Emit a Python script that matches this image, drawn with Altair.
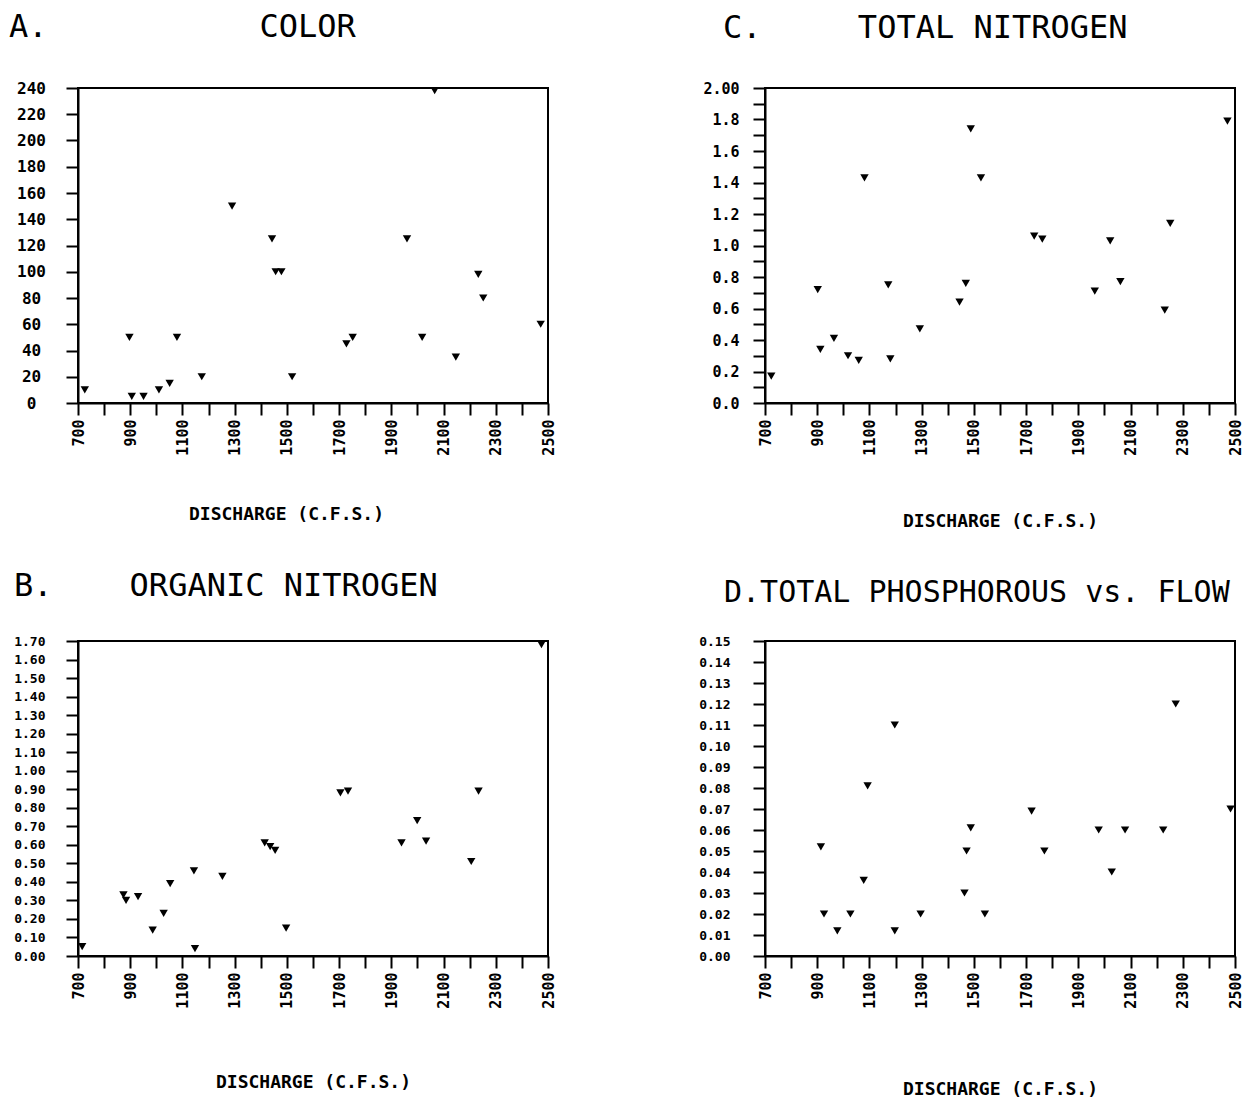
import altair as alt
import pandas as pd

# ---------------- data ----------------
A_x = [726, 897, 906, 951, 1010, 1051, 1079, 1174, 1290, 1443, 1457, 1479, 1520, 1728, 1752, 1960, 2018, 2066, 2147, 2233, 2252, 2472]
A_y = [10, 50, 5, 5, 10, 15, 50, 20, 150, 125, 100, 100, 20, 45, 50, 125, 50, 238, 35, 98, 80, 60]

C_x = [724, 902, 912, 964, 1018, 1059, 1081, 1172, 1180, 1293, 1445, 1469, 1488, 1527, 1731, 1762, 1963, 2022, 2061, 2231, 2252, 2471]
C_y = [0.17, 0.72, 0.34, 0.41, 0.30, 0.27, 1.43, 0.75, 0.28, 0.47, 0.64, 0.76, 1.74, 1.43, 1.06, 1.04, 0.71, 1.03, 0.77, 0.59, 1.14, 1.79]

B_x = [716, 874, 884, 930, 986, 1028, 1053, 1144, 1148, 1253, 1415, 1436, 1455, 1497, 1705, 1734, 1939, 1999, 2033, 2206, 2234, 2475]
B_y = [0.05, 0.33, 0.30, 0.32, 0.14, 0.23, 0.39, 0.46, 0.04, 0.43, 0.61, 0.59, 0.57, 0.15, 0.88, 0.89, 0.61, 0.73, 0.62, 0.51, 0.89, 1.68]

D_x = [914, 926, 977, 1027, 1078, 1093, 1197, 1197, 1296, 1464, 1472, 1488, 1542, 1721, 1770, 1978, 2028, 2079, 2225, 2273, 2483]
D_y = [0.052, 0.020, 0.012, 0.020, 0.036, 0.081, 0.110, 0.012, 0.020, 0.030, 0.050, 0.061, 0.020, 0.069, 0.050, 0.060, 0.040, 0.060, 0.060, 0.120, 0.070]

X_TICKS = list(range(700, 2501, 100))
A_TICKS = list(range(0, 241, 20))
C_TICKS = [round(i * 0.1, 2) for i in range(0, 21)]
B_TICKS = [round(i * 0.1, 2) for i in range(0, 18)]
D_TICKS = [round(i * 0.01, 2) for i in range(0, 16)]

TITLE_A = "A." + "\u00a0" * 11 + "COLOR"
TITLE_C = "C." + "\u00a0" * 5 + "TOTAL\u00a0NITROGEN"
TITLE_B = "B." + "\u00a0" * 4 + "ORGANIC\u00a0NITROGEN"
TITLE_D = "D.TOTAL\u00a0PHOSPHOROUS\u00a0vs.\u00a0FLOW"
X_TITLE = "DISCHARGE (C.F.S.)"

FONT = "DejaVu Sans Mono"
W, H = 470, 315


def panel(xs, ys, ydom, yticks, ylabel_expr, title, title_dx, title_offset, title_size,
          ylab_align, ylab_pad, ylab_size, xtitle_pad, yfmt, xtitle_x=None):
    df = pd.DataFrame({"q": xs, "v": ys})
    xaxis = dict(
        values=X_TICKS,
        format="d",
        labelExpr="(datum.value - 700) % 200 == 0 ? datum.label : ''",
        labelAngle=270,
        labelFontSize=15,
        labelPadding=4,
        labelFlush=False,
        labelOverlap=False,
        title=X_TITLE,
        titleFontSize=18,
        titleFontWeight="bold",
        titlePadding=xtitle_pad,
    )
    if xtitle_x is not None:
        xaxis["titleX"] = xtitle_x
    x = alt.X(
        "q:Q",
        scale=alt.Scale(domain=[700, 2500], nice=False, zero=False),
        axis=alt.Axis(**xaxis),
    )
    yaxis = dict(
        values=yticks,
        format=yfmt,
        labelFontSize=ylab_size,
        labelAlign=ylab_align,
        labelPadding=ylab_pad,
        labelOverlap=False,
        labelFlush=False,
        title=None,
    )
    if ylabel_expr:
        yaxis["labelExpr"] = ylabel_expr
    y = alt.Y(
        "v:Q",
        scale=alt.Scale(domain=ydom, nice=False, zero=True),
        axis=alt.Axis(**yaxis),
    )
    return (
        alt.Chart(df)
        .mark_point(shape="triangle-down", filled=True, color="black", size=70, opacity=1)
        .encode(x=x, y=y)
        .properties(
            width=W,
            height=H,
            title=alt.TitleParams(
                text=title,
                anchor="start",
                frame="group",
                dx=title_dx,
                offset=title_offset,
                font=FONT,
                fontSize=title_size,
                fontWeight="normal",
                color="black",
            ),
        )
    )


chart_a = panel(A_x, A_y, [0, 240], A_TICKS, None, TITLE_A, -69, 36, 32,
                "center", 35, 16, 50, "d", xtitle_x=208)
chart_c = panel(C_x, C_y, [0, 2], C_TICKS,
                "abs(datum.value - 2) < 0.001 ? '2.00' : (round(datum.value * 10) % 2 == 0 ? format(datum.value, '.1f') : '')",
                TITLE_C, -42, 36, 32, "right", 14, 15, 57, ".1f")
chart_b = panel(B_x, B_y, [0, 1.7], B_TICKS, None, TITLE_B, -64, 32, 32,
                "right", 21, 13, 65, ".2f")
chart_d = panel(D_x, D_y, [0, 0.15], D_TICKS, None, TITLE_D, -41, 27, 30,
                "right", 23, 13, 72, ".2f")

chart = (
    alt.concat(chart_a, chart_c, chart_b, chart_d, columns=2,
               spacing={"row": 238, "column": 217}, bounds="flush")
    .properties(padding={"top": 2, "left": 0, "right": 0, "bottom": 0}, background="white")
    .configure_view(stroke="black", strokeWidth=2)
    .configure_axis(
        grid=False,
        domainColor="black",
        domainWidth=2,
        tickColor="black",
        tickWidth=2,
        tickSize=12,
        labelColor="black",
        labelFont=FONT,
        labelFontWeight="bold",
        titleFont=FONT,
        titleColor="black",
    )
)

chart.save("out.html", embed_options={"renderer": "svg", "actions": False})
